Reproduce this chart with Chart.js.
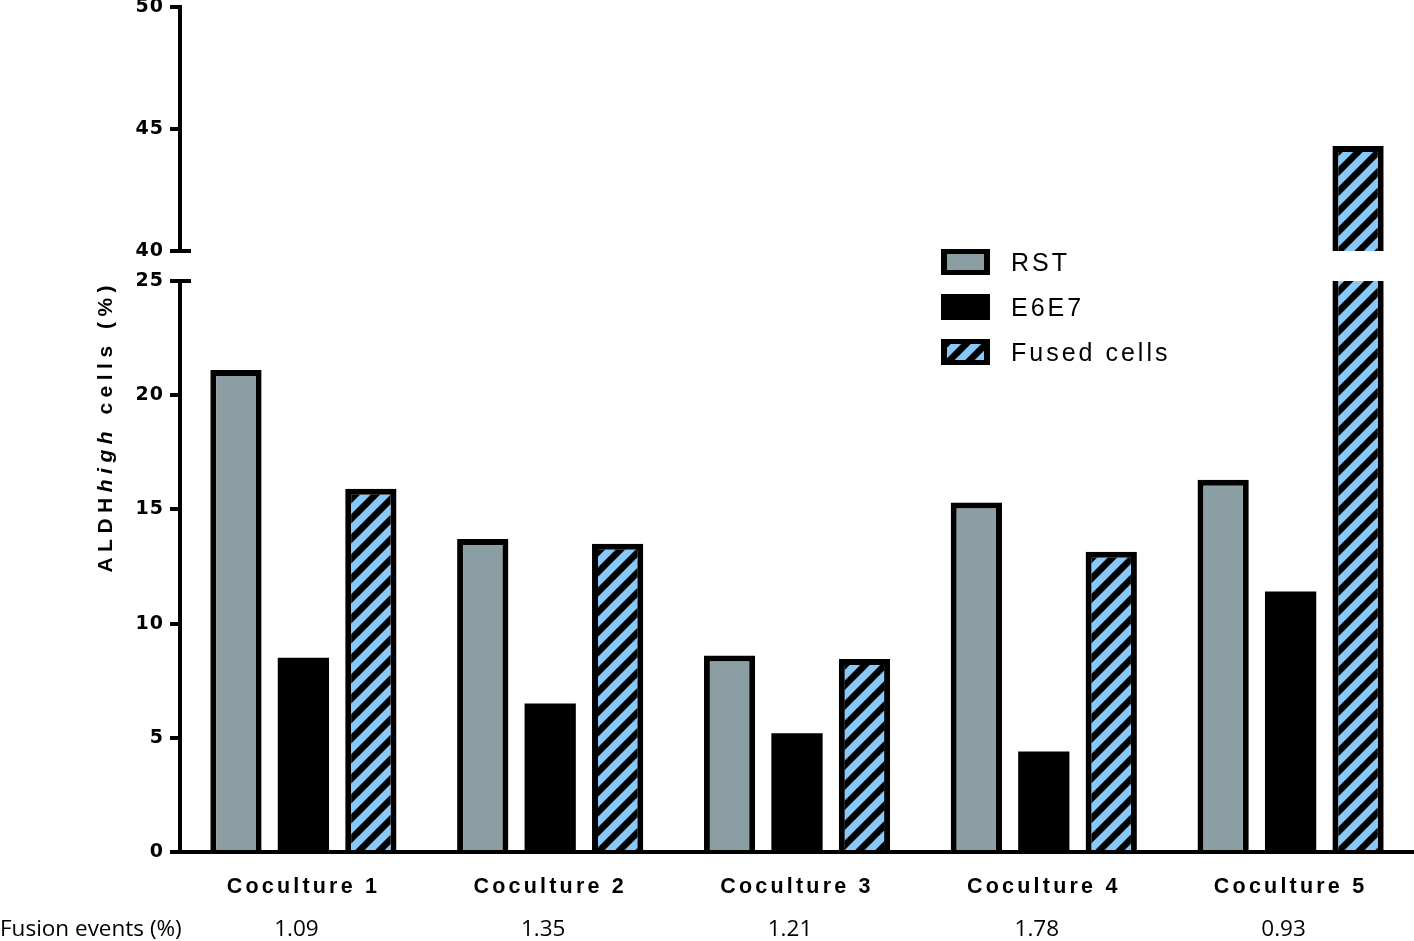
<!DOCTYPE html>
<html><head><meta charset="utf-8">
<script src="https://cdn.jsdelivr.net/npm/chart.js@4.4.1/dist/chart.umd.min.js"></script>
<style>
html,body{margin:0;padding:0;background:#fff;overflow:hidden;}
#wrap{position:relative;width:1414px;height:941px;}
#wrap canvas{position:absolute;left:0;}
#bottom{top:0;}
#top{top:-40px;}
</style></head><body>
<div id="wrap"><canvas id="bottom" width="1414" height="941"></canvas><canvas id="top" width="1414" height="340"></canvas></div>
<script>
// ---- data ----
const categories = ['Coculture 1', 'Coculture 2', 'Coculture 3', 'Coculture 4', 'Coculture 5'];
const seriesNames = ['RST', 'E6E7', 'Fused cells'];
const rstValues   = [21.1, 13.7, 8.6, 15.3, 16.3];
const e6e7Values  = [8.5, 6.5, 5.2, 4.4, 11.4];
const fusedValues = [15.9, 13.5, 8.45, 13.15, 44.3];
const fusionEvents = ['1.09', '1.35', '1.21', '1.78', '0.93'];
const fusionLabel = 'Fusion events (%)';
const lowerTicks = [0, 5, 10, 15, 20, 25];
const upperTicks = [40, 45, 50];
const titleParts = ['ALDH', 'high', ' cells (%)'];

// ---- styles ----
const GRAY = '#8b9ea3';
const BLUE = '#8ac8f8';
const TICK_FONT = {family: 'DejaVu Sans', weight: 'bold', size: 19};
const CAT_FONT = {family: 'Liberation Sans', weight: 'bold', size: 21.5};
const LETTER_SPACING = {x: '3.2px', y: '1px'};

function hatchTile() {
  const s = 20, c = document.createElement('canvas');
  c.width = s; c.height = s;
  const g = c.getContext('2d');
  g.fillStyle = '#000'; g.fillRect(0, 0, s, s);
  g.strokeStyle = BLUE; g.lineWidth = 7.5;
  g.beginPath();
  for (const k of [0, s, 2 * s]) { g.moveTo(k + 4, -4); g.lineTo(k - s - 4, s + 4); }
  g.stroke();
  return c;
}

function makeDatasets(ctx, pick) {
  const common = {categoryPercentage: 0.82, barPercentage: 0.76, clip: 0};
  return [
    Object.assign({label: seriesNames[0], data: pick(rstValues), backgroundColor: GRAY, borderColor: '#000', borderWidth: 6}, common),
    Object.assign({label: seriesNames[1], data: pick(e6e7Values), backgroundColor: '#000', borderWidth: 0}, common),
    Object.assign({label: seriesNames[2], data: pick(fusedValues), backgroundColor: ctx.createPattern(hatchTile(), 'repeat'), borderColor: '#000', borderWidth: 6}, common)
  ];
}

// per-axis letter spacing for tick labels
const spacingPlugin = {
  id: 'spacing',
  beforeDraw(chart) {
    Object.keys(chart.scales).forEach(id => {
      const s = chart.scales[id];
      if (s._lsWrapped) return;
      const orig = s.drawLabels;
      s.drawLabels = function (area) {
        const c = this.ctx;
        c.save();
        c.letterSpacing = LETTER_SPACING[id] || '0px';
        orig.call(this, area);
        c.restore();
      };
      s._lsWrapped = true;
    });
  }
};

function breakMark(chart, value) {
  const ctx = chart.ctx, y = chart.scales.y.getPixelForValue(value), x = chart.chartArea.left;
  ctx.save();
  ctx.strokeStyle = '#000'; ctx.lineWidth = 4;
  ctx.beginPath(); ctx.moveTo(x - 2, y); ctx.lineTo(x + 11, y); ctx.stroke();
  ctx.restore();
}

const bottomDecor = {
  id: 'bottomDecor',
  afterDraw(chart) {
    const ctx = chart.ctx;
    breakMark(chart, lowerTicks[lowerTicks.length - 1]);
    // y title
    ctx.save();
    ctx.translate(106, 429);
    ctx.rotate(-Math.PI / 2);
    ctx.letterSpacing = '5.5px';
    ctx.textBaseline = 'middle'; ctx.textAlign = 'left'; ctx.fillStyle = '#000';
    const fonts = ['bold 21px "Liberation Sans"', 'italic bold 21px "Liberation Sans"', 'bold 21px "Liberation Sans"'];
    let total = 0;
    titleParts.forEach((t, i) => { ctx.font = fonts[i]; total += ctx.measureText(t).width; });
    total -= 5.5;
    let x = -total / 2;
    titleParts.forEach((t, i) => { ctx.font = fonts[i]; ctx.fillText(t, x, 0); x += ctx.measureText(t).width; });
    ctx.restore();

    // legend
    ctx.save();
    const fills = [GRAY, '#000', ctx.createPattern(hatchTile(), 'repeat')];
    const rows = [249, 294, 339];
    rows.forEach((top, i) => {
      ctx.fillStyle = '#000';
      ctx.fillRect(941, top, 49, 26);
      ctx.fillStyle = fills[i];
      ctx.fillRect(947, top + 5, 37, 16);
      ctx.letterSpacing = '3px';
      ctx.font = '25px "Liberation Sans"';
      ctx.fillStyle = '#000'; ctx.textBaseline = 'middle'; ctx.textAlign = 'left';
      ctx.fillText(seriesNames[i], 1011, top + 15);
    });
    ctx.restore();

    // fusion events row
    ctx.save();
    ctx.letterSpacing = '0px';
    ctx.font = '22.5px "Open Sans"';
    ctx.fillStyle = '#000'; ctx.textBaseline = 'middle';
    ctx.textAlign = 'left';
    ctx.fillText(fusionLabel, 0, 930);
    ctx.textAlign = 'center';
    fusionEvents.forEach((t, i) => {
      ctx.fillText(t, chart.scales.x.getPixelForValue(i) - 7, 930);
    });
    ctx.restore();
  }
};

const topDecor = {
  id: 'topDecor',
  afterDraw(chart) { breakMark(chart, upperTicks[0]); }
};

function yScale(min, max, ticksArr) {
  return {
    min: min, max: max,
    afterBuildTicks: s => { s.ticks = ticksArr.map(v => ({value: v})); },
    afterFit: s => { s.width = 180; },
    grid: {drawOnChartArea: false, color: '#000', lineWidth: 4, tickLength: 10},
    border: {display: true, color: '#000', width: 4},
    ticks: {color: '#000', font: TICK_FONT, padding: 6}
  };
}

function fitArea(chart, t) {
  for (let i = 0; i < 5; i++) {
    const a = chart.chartArea, p = chart.options.layout.padding;
    const dt = t.top - a.top, db = a.bottom - t.bottom, dl = t.left - a.left, dr = a.right - t.right;
    if (Math.abs(dt) < 0.2 && Math.abs(db) < 0.2 && Math.abs(dl) < 0.2 && Math.abs(dr) < 0.2) break;
    p.top += dt; p.bottom += db; p.left += dl; p.right += dr;
    chart.update();
  }
}

// bottom (0-25) chart
const bctx = document.getElementById('bottom').getContext('2d');
const bottomChart = new Chart(bctx, {
  type: 'bar',
  data: {labels: categories, datasets: makeDatasets(bctx, a => a.slice())},
  options: {
    responsive: false, animation: false, events: [],
    layout: {padding: {top: 281, left: 0, right: 0, bottom: 30}},
    plugins: {legend: {display: false}, tooltip: {enabled: false}},
    scales: {
      x: {
        grid: {display: false, drawTicks: false},
        border: {display: true, color: '#000', width: 4},
        ticks: {color: '#000', font: CAT_FONT, padding: 22, maxRotation: 0, autoSkip: false}
      },
      y: yScale(0, 25, lowerTicks)
    }
  },
  plugins: [spacingPlugin, bottomDecor]
});
fitArea(bottomChart, {top: 281, bottom: 852, left: 180, right: 1414});

// top (40-50) chart
const tctx = document.getElementById('top').getContext('2d');
const topChart = new Chart(tctx, {
  type: 'bar',
  data: {labels: categories, datasets: makeDatasets(tctx, a => a.map(v => v >= upperTicks[0] ? v : null))},
  options: {
    responsive: false, animation: false, events: [],
    layout: {padding: {top: 47, left: 0, right: 0, bottom: 49}},
    plugins: {legend: {display: false}, tooltip: {enabled: false}},
    scales: {
      x: {display: false},
      y: yScale(40, 50, upperTicks)
    }
  },
  plugins: [spacingPlugin, topDecor]
});
fitArea(topChart, {top: 47, bottom: 291, left: 180, right: 1414});
</script>
</body></html>
